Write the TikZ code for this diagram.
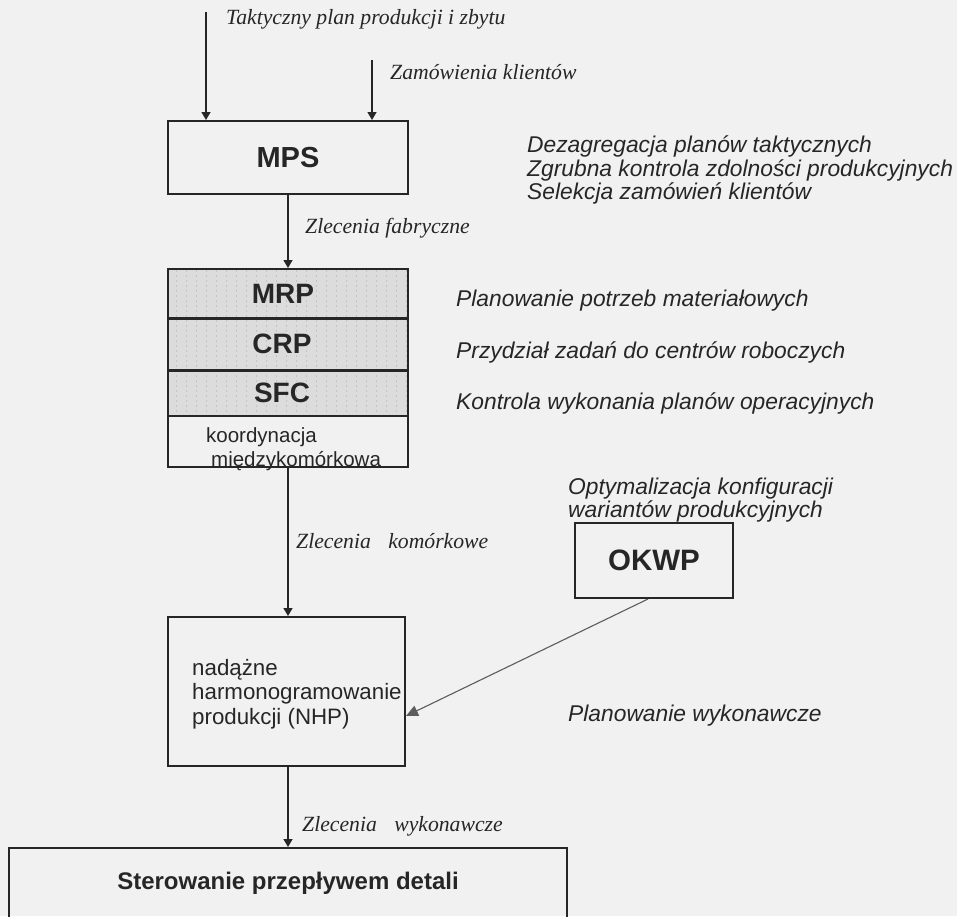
\documentclass[tikz,border=0pt]{standalone}
\usepackage{fontspec}
\setmainfont{Liberation Serif}
\setsansfont{Liberation Sans}
\usetikzlibrary{arrows.meta}
\definecolor{bg}{RGB}{241,241,241}
\definecolor{ink}{RGB}{38,38,38}
\definecolor{rowfill}{RGB}{220,220,220}
\definecolor{rowmark}{RGB}{196,196,196}
\begin{document}
\begin{tikzpicture}[x=1pt,y=-1pt,
  box/.style={draw=ink, line width=2pt, inner sep=0pt, text=ink},
  rowbox/.style={box, fill=rowfill, minimum width=240pt},
  rowtext/.style={font=\sffamily\bfseries\fontsize{28}{30}\selectfont, text=ink, inner sep=0pt},
  arr/.style={draw=ink, line width=1.4pt, -{Triangle[width=9pt,length=8pt]}},
  thinarr/.style={draw=ink!75, line width=1.1pt, -{Triangle[width=11pt,length=12pt]}},
  lab/.style={font=\rmfamily\itshape\fontsize{21.7}{24}\selectfont, text=ink, anchor=west, inner sep=0pt},
  desc/.style={font=\sffamily\itshape\fontsize{22.8}{23.2}\selectfont, text=ink, anchor=west, inner sep=0pt, align=left},
  plain/.style={font=\sffamily\fontsize{20.5}{24.5}\selectfont, text=ink, anchor=west, inner sep=0pt, align=left}]
\fill[bg] (0,0) rectangle (957,916);
\useasboundingbox (0,0) rectangle (957,916);
\clip (0,0) rectangle (957,916);

% MPS
\node[box, minimum width=240pt, minimum height=73pt, font=\sffamily\bfseries\fontsize{29}{31}\selectfont] (mps) at (288,157.5) {MPS};

% stack rows
\node[rowbox, minimum height=49pt] (mrp) at (288,293.5) {};
\node[rowbox, minimum height=52pt] (crp) at (288,344) {};
\node[rowbox, minimum height=46pt] (sfc) at (288,393) {};
% faint scan texture of the row fill
\begin{scope}
  \clip (169,270) rectangle (407,415);
  \foreach \xx in {176,186,...,406} {
    \draw[rowmark, line width=0.8pt, dash pattern=on 2pt off 3pt] (\xx,270) -- (\xx,416);
  }
\end{scope}
\draw[ink, line width=2pt] (mrp.south west) -- (mrp.south east);
\draw[ink, line width=2pt] (crp.south west) -- (crp.south east);
\draw[ink, line width=2pt] (168,269) rectangle (408,416);
\node[rowtext] (mrpt) at (283,293.5) {MRP};
\node[rowtext] (crpt) at (282,344) {CRP};
\node[rowtext] (sfct) at (282,393) {SFC};
\node[box, minimum width=240pt, minimum height=51pt] (koord) at (288,441.5) {};
\node[plain] (koordt) at (206,449) {koordynacja\\[-1pt]\hspace{5pt}międzykomórkowa};

% OKWP
\node[box, minimum width=158pt, minimum height=75pt, font=\sffamily\bfseries\fontsize{29.5}{31}\selectfont] (okwp) at (654,560.5) {OKWP};

% NHP
\node[box, minimum width=237pt, minimum height=149pt] (nhp) at (286.5,691.5) {};
\node[plain, font=\sffamily\fontsize{22.3}{24.5}\selectfont] (nhpt) at (192,694) {nadążne\\harmonogramowanie\\produkcji (NHP)};

% bottom box
\node[box, minimum width=558pt, minimum height=140pt] (ster) at (288,918) {};
\node[font=\sffamily\bfseries\fontsize{24}{26}\selectfont, text=ink, inner sep=0pt] (stert) at (288,883) {Sterowanie przepływem detali};

% connectors
\coordinate (tak) at (206,12);
\coordinate (zam) at (372,60);
\draw[arr] (tak) -- (tak |- mps.north);
\draw[arr] (zam) -- (zam |- mps.north);
\draw[arr] (mps.south) -- (mrp.north);
\draw[arr] (koord.south) -- (koord.south |- nhp.north);
\draw[arr] (nhp.south -| koord.south) -- (koord.south |- ster.north);
\draw[thinarr] ([xshift=-6pt]okwp.south) -- ([yshift=-24.5pt]nhp.east);

% connector labels
\node[lab] (l1) at (226,19) {Taktyczny plan produkcji i zbytu};
\node[lab] (l2) at (390,72) {Zamówienia klientów};
\node[lab] (l3) at (305,228) {Zlecenia fabryczne};
\node[lab] (l4) at (296,541) {Zlecenia\hspace{0.8em}komórkowe};
\node[lab] (l5) at (302,826) {Zlecenia\hspace{0.8em}wykonawcze};

% descriptions
\node[desc] (d1) at (527,170) {Dezagregacja planów taktycznych\\Zgrubna kontrola zdolności produkcyjnych\\Selekcja zamówień klientów};
\node[desc] (d2) at (456,301) {Planowanie potrzeb materiałowych};
\node[desc] (d3) at (456,352) {Przydział zadań do centrów roboczych};
\node[desc] (d4) at (456,403) {Kontrola wykonania planów operacyjnych};
\node[desc] (d5) at (568,500) {Optymalizacja konfiguracji\\wariantów produkcyjnych};
\node[desc] (d6) at (568,716) {Planowanie wykonawcze};
\end{tikzpicture}
\end{document}
